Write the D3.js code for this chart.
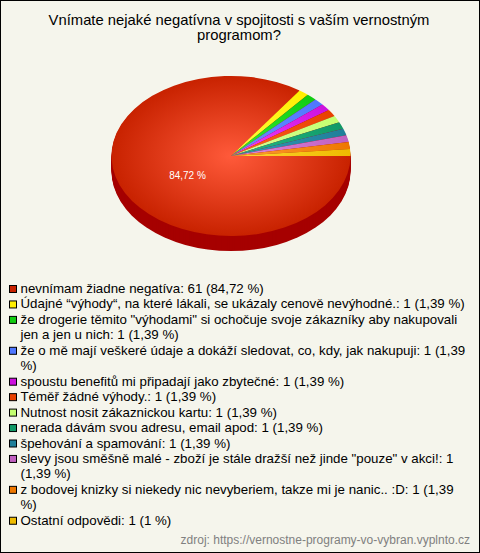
<!DOCTYPE html>
<html><head><meta charset="utf-8">
<script src="https://cdn.jsdelivr.net/npm/d3@7"></script>
<style>html,body{margin:0;padding:0;background:#fff}svg{display:block}text{font-family:"Liberation Sans",Arial,sans-serif}</style>
</head><body><div id="c"></div>
<script>
const titleLines=["Vnímate nejaké negatívna v spojitosti s vaším vernostným","programom?"];
const categories=["nevnímam žiadne negatíva","Údajné “výhody“, na které lákali, se ukázaly cenově nevýhodné.","že drogerie těmito \"výhodami\" si ochočuje svoje zákazníky aby nakupovali jen a jen u nich","že o mě mají veškeré údaje a dokáží sledovat, co, kdy, jak nakupuji","spoustu benefitů mi připadají jako zbytečné","Téměř žádné výhody.","Nutnost nosit zákaznickou kartu","nerada dávám svou adresu, email apod","špehování a spamování","slevy jsou směšně malé - zboží je stále dražší než jinde \"pouze\" v akci!","z bodovej knizky si niekedy nic nevyberiem, takze mi je nanic.. :D","Ostatní odpovědi"];
const values=[61,1,1,1,1,1,1,1,1,1,1,1];
const percents=["84,72 %","1,39 %","1,39 %","1,39 %","1,39 %","1,39 %","1,39 %","1,39 %","1,39 %","1,39 %","1,39 %","1 %"];
const legendLines=[
["nevnímam žiadne negatíva: 61 (84,72 %)"],
["Údajné “výhody“, na které lákali, se ukázaly cenově nevýhodné.: 1 (1,39 %)"],
["že drogerie těmito \"výhodami\" si ochočuje svoje zákazníky aby nakupovali","jen a jen u nich: 1 (1,39 %)"],
["že o mě mají veškeré údaje a dokáží sledovat, co, kdy, jak nakupuji: 1 (1,39","%)"],
["spoustu benefitů mi připadají jako zbytečné: 1 (1,39 %)"],
["Téměř žádné výhody.: 1 (1,39 %)"],
["Nutnost nosit zákaznickou kartu: 1 (1,39 %)"],
["nerada dávám svou adresu, email apod: 1 (1,39 %)"],
["špehování a spamování: 1 (1,39 %)"],
["slevy jsou směšně malé - zboží je stále dražší než jinde \"pouze\" v akci!: 1","(1,39 %)"],
["z bodovej knizky si niekedy nic nevyberiem, takze mi je nanic.. :D: 1 (1,39","%)"],
["Ostatní odpovědi: 1 (1 %)"]];
const colors=["#c82200","#ffee00","#11cc11","#4f77ff","#cc11dd","#e84000","#c4ff70","#119966","#1f7f99","#c060c0","#ee7700","#eebb00"];
const centerColors=["#ff5a3a","#ffff44","#33ee33","#6a90ff","#ee44ff","#ff6622","#d8ff99","#22bb88","#3399bb","#dd88dd","#ffa033","#ffd633"];
const source="zdroj: https://vernostne-programy-vo-vybran.vyplnto.cz";

const W=480,H=553,cx=231,cy=156,rx=119.5,ry=80,depth=15;
const svg=d3.select("#c").append("svg").attr("width",W).attr("height",H);
svg.append("rect").attr("x",.5).attr("y",.5).attr("width",W-1).attr("height",H-1).attr("fill","#f5f5ec").attr("stroke","#000");

const title=svg.append("text").attr("text-anchor","middle").attr("font-size",14.8).attr("fill","#000");
titleLines.forEach((t,i)=>title.append("tspan").attr("x",239).attr("y",24.5+i*15.5).text(t));

const pie=d3.pie().sort(null).value(d=>d).startAngle(Math.PI/2).endAngle(Math.PI/2+2*Math.PI);
const arcs=pie(values);
const arc=d3.arc().innerRadius(0).outerRadius(1);
const defs=svg.append("defs");
colors.forEach((c,i)=>{
  const g=defs.append("radialGradient").attr("id","g"+i).attr("gradientUnits","userSpaceOnUse").attr("cx",0).attr("cy",0).attr("r",1);
  g.append("stop").attr("offset","0%").attr("stop-color",centerColors[i]);
  g.append("stop").attr("offset","100%").attr("stop-color",c);
});
const wall=d3.range(depth,0,-1);
svg.append("g").selectAll("ellipse").data(wall).join("ellipse")
  .attr("cx",cx).attr("cy",d=>cy+d).attr("rx",rx).attr("ry",ry).attr("fill","#a60000");
svg.append("g").attr("transform",`translate(${cx},${cy}) scale(${rx},${ry})`)
  .selectAll("path").data(arcs).join("path")
  .attr("d",arc).attr("fill",(d,i)=>`url(#g${i})`);
svg.append("text").attr("x",187.5).attr("y",179).attr("text-anchor","middle").attr("font-size",10).attr("fill","#fff").text(percents[0]);

const lineH=15.45;
let y=293;
const lg=svg.append("g");
legendLines.forEach((lines,i)=>{
  lg.append("rect").attr("x",9.5).attr("y",y-7.5).attr("width",7).attr("height",7).attr("fill",colors[i]).attr("stroke","#000");
  lines.forEach((t,j)=>{
    lg.append("text").attr("x",20.5).attr("y",y+j*lineH).attr("font-size",13.3).attr("fill","#000").text(t);
  });
  y+=lines.length*lineH;
});
svg.append("text").attr("x",470).attr("y",544).attr("text-anchor","end").attr("font-size",12).attr("fill","#808080").text(source);
</script></body></html>
